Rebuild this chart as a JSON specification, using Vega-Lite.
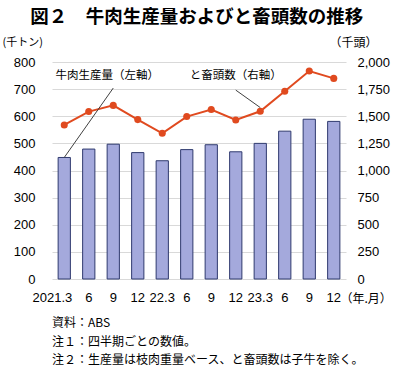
{
  "$schema": "https://vega.github.io/schema/vega-lite/v6.json",
  "padding": {"left": 2, "top": 7, "right": 0, "bottom": 0},
  "background": "white",
  "config": {
    "font": "Liberation Sans, Noto Sans CJK JP",
    "view": {"stroke": null}
  },
  "title": {
    "text": "図２　牛肉生産量およびと畜頭数の推移",
    "fontSize": 18.5,
    "fontWeight": "bold",
    "font": "Noto Sans CJK JP",
    "anchor": "middle",
    "color": "#000000",
    "offset": 10
  },
  "datasets": {
    "main": [
      {"q": "2021.3", "prod": 448, "cattle": 1420},
      {"q": "2021.6", "prod": 479, "cattle": 1543},
      {"q": "2021.9", "prod": 497, "cattle": 1600},
      {"q": "2021.12", "prod": 466, "cattle": 1469},
      {"q": "2022.3", "prod": 436, "cattle": 1343},
      {"q": "2022.6", "prod": 477, "cattle": 1497},
      {"q": "2022.9", "prod": 495, "cattle": 1562},
      {"q": "2022.12", "prod": 469, "cattle": 1466},
      {"q": "2023.3", "prod": 500, "cattle": 1546},
      {"q": "2023.6", "prod": 545, "cattle": 1731},
      {"q": "2023.9", "prod": 589, "cattle": 1917},
      {"q": "2023.12", "prod": 581, "cattle": 1849}
    ],
    "leftNote": [
      {"q": "2021.9", "q2": "2021.3", "y": 704, "y2": 448, "label": "牛肉生産量（左軸）", "ty": 748}
    ],
    "rightNote": [
      {"q": "2022.12", "q2": "2023.3", "y": 1741, "y2": 1580, "label": "と畜頭数（右軸）", "ty": 1870}
    ]
  },
  "vconcat": [
    {
      "width": 294,
      "height": 217,
      "title": {
        "text": ["資料：ABS", "注１：四半期ごとの数値。", "注２：生産量は枝肉重量ベース、と畜頭数は子牛を除く。"],
        "orient": "bottom",
        "anchor": "start",
        "frame": "group",
        "fontSize": 12,
        "fontWeight": "normal",
        "font": "Noto Sans CJK JP",
        "lineHeight": 18.5,
        "color": "#000000",
        "offset": 14
      },
      "encoding": {
        "x": {
          "field": "q",
          "type": "ordinal",
          "sort": null,
          "scale": {"paddingInner": 0.5, "paddingOuter": 0.25},
          "axis": {
            "title": "（年.月）",
            "titleFont": "Noto Sans CJK JP",
            "titleFontSize": 12,
            "titleFontWeight": "normal",
            "titleColor": "#000000",
            "titleAngle": 0,
            "titleAlign": "left",
            "titleBaseline": "middle",
            "titleX": 288,
            "titleY": 19,
            "labelAngle": 0,
            "labelFontSize": 13,
            "labelColor": "#000000",
            "labelPadding": 12,
            "labelAlign": {"condition": {"test": "datum.value == '2021.3'", "value": "right"}, "value": "center"},
            "labelOffset": {"condition": {"test": "datum.value == '2021.3'", "value": 8}, "value": 0},
            "labelExpr": "datum.value == '2021.3' ? '2021.3' : (indexof(datum.value, '.3') == 4 && length(datum.value) == 6) ? slice(datum.value, 2) : split(datum.value, '.')[1]",
            "labelOverlap": false,
            "labelFlush": false,
            "ticks": false,
            "tickSize": 0,
            "domain": false,
            "grid": false
          }
        }
      },
      "layer": [
        {
          "data": {"name": "main"},
          "mark": {"type": "bar", "fill": "#a4a9dc", "stroke": "#2f3a6e", "strokeWidth": 1},
          "encoding": {
            "y": {
              "field": "prod",
              "type": "quantitative",
              "scale": {"domain": [0, 800], "nice": false},
              "axis": {
                "title": "(千トン)",
                "titleFont": "Noto Sans CJK JP",
                "titleFontSize": 11,
                "titleFontWeight": "normal",
                "titleColor": "#000000",
                "titleAngle": 0,
                "titleAlign": "left",
                "titleBaseline": "middle",
                "titleX": -50,
                "titleY": -20,
                "values": [0, 100, 200, 300, 400, 500, 600, 700, 800],
                "labelFontSize": 13,
                "labelColor": "#000000",
                "labelPadding": 17,
                "ticks": false,
                "tickSize": 0,
                "domain": false,
                "grid": true,
                "gridColor": "#d9d9d9",
                "gridWidth": 1
              }
            }
          }
        },
        {
          "data": {"name": "main"},
          "mark": {
            "type": "line",
            "color": "#e04a1f",
            "strokeWidth": 2,
            "point": {"filled": true, "size": 50, "color": "#e04a1f"}
          },
          "encoding": {
            "y": {
              "field": "cattle",
              "type": "quantitative",
              "scale": {"domain": [0, 2000], "nice": false},
              "axis": {
                "orient": "right",
                "title": "（千頭）",
                "titleFont": "Noto Sans CJK JP",
                "titleFontSize": 12,
                "titleFontWeight": "normal",
                "titleColor": "#000000",
                "titleAngle": 0,
                "titleAlign": "left",
                "titleBaseline": "middle",
                "titleX": -17,
                "titleY": -20,
                "values": [0, 250, 500, 750, 1000, 1250, 1500, 1750, 2000],
                "format": ",.0f",
                "labelFontSize": 13,
                "labelColor": "#000000",
                "labelPadding": 11,
                "ticks": false,
                "tickSize": 0,
                "domain": false,
                "grid": false
              }
            }
          }
        },
        {
          "data": {"name": "leftNote"},
          "layer": [
            {
              "mark": {"type": "rule", "color": "#404040", "strokeWidth": 1},
              "encoding": {
                "x": {"field": "q", "type": "ordinal", "sort": null},
                "x2": {"field": "q2"},
                "y": {"field": "y", "type": "quantitative", "scale": {"domain": [0, 800], "nice": false}, "axis": null},
                "y2": {"field": "y2"}
              }
            },
            {
              "mark": {"type": "text", "fontSize": 11.5, "font": "Noto Sans CJK JP", "color": "#000000", "dx": -6, "align": "center", "baseline": "middle"},
              "encoding": {
                "x": {"field": "q", "type": "ordinal", "sort": null},
                "y": {"field": "ty", "type": "quantitative", "axis": null},
                "text": {"field": "label"}
              }
            }
          ]
        },
        {
          "data": {"name": "rightNote"},
          "layer": [
            {
              "mark": {"type": "rule", "color": "#404040", "strokeWidth": 1},
              "encoding": {
                "x": {"field": "q", "type": "ordinal", "sort": null},
                "x2": {"field": "q2"},
                "y": {"field": "y", "type": "quantitative", "scale": {"domain": [0, 2000], "nice": false}, "axis": null},
                "y2": {"field": "y2"}
              }
            },
            {
              "mark": {"type": "text", "fontSize": 11.5, "font": "Noto Sans CJK JP", "color": "#000000", "align": "center", "baseline": "middle"},
              "encoding": {
                "x": {"field": "q", "type": "ordinal", "sort": null},
                "y": {"field": "ty", "type": "quantitative", "axis": null},
                "text": {"field": "label"}
              }
            }
          ]
        }
      ],
      "resolve": {"scale": {"y": "independent"}}
    }
  ]
}
